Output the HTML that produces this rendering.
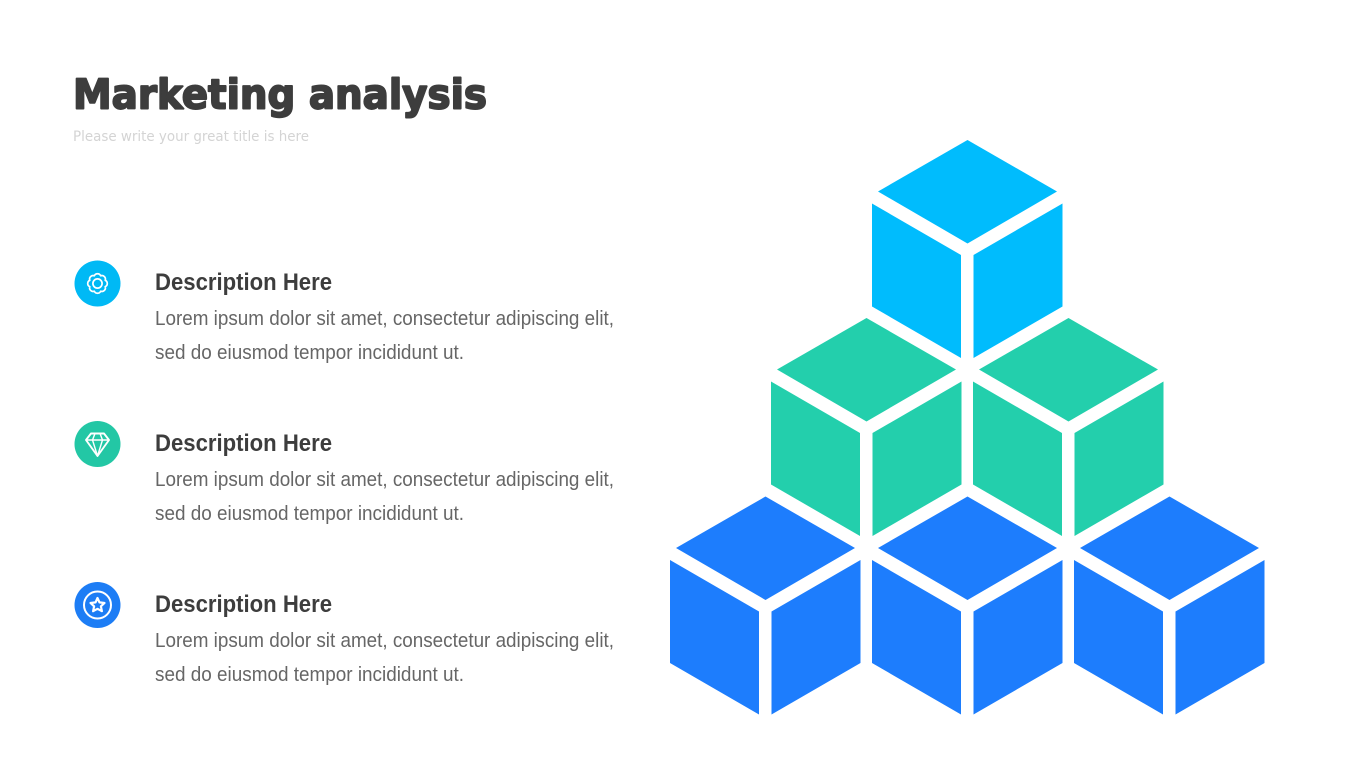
<!DOCTYPE html>
<html lang="en">
<head>
<meta charset="utf-8">
<title>Marketing analysis</title>
<style>
html,body{margin:0;padding:0;background:#fff;width:1365px;height:768px;overflow:hidden}
svg{display:block}
text{font-family:"Liberation Sans",sans-serif}
.h{font-size:24px;font-weight:700;fill:#3d3d3d}
.b{font-size:20.5px;fill:#666}
</style>
</head>
<body>
<svg width="1365" height="768" viewBox="0 0 1365 768" xmlns="http://www.w3.org/2000/svg">
<defs>
<g id="cube">
<polygon points="0,0 89.5,51.5 0,103.5 -89.5,51.5"/>
<polygon points="-95.5,63.5 -6.5,115 -6.5,218 -95.5,166.5"/>
<polygon points="6,115 95,63.5 95,166.5 6,218"/>
</g>
</defs>
<rect width="1365" height="768" fill="#fff"/>

<text x="73" y="108.500" font-size="41" font-weight="700" fill="#3d3d3d" stroke="#3d3d3d" stroke-width="1.9" stroke-linejoin="round" textLength="414" lengthAdjust="spacingAndGlyphs" style="font-family:'DejaVu Sans',sans-serif">Marketing analysis</text>
<text x="73" y="141" font-size="14" fill="#d4d4d4" textLength="236" lengthAdjust="spacingAndGlyphs" style="font-family:'DejaVu Sans',sans-serif">Please write your great title is here</text>

<use href="#cube" x="967.5" y="140" fill="#00bcfd"/>
<use href="#cube" x="866.5" y="318" fill="#23cfac"/>
<use href="#cube" x="1068.5" y="318" fill="#23cfac"/>
<use href="#cube" x="765.5" y="496.5" fill="#1d7dfd"/>
<use href="#cube" x="967.5" y="496.5" fill="#1d7dfd"/>
<use href="#cube" x="1169.5" y="496.5" fill="#1d7dfd"/>

<circle cx="97.5" cy="283.5" r="23" fill="#00b9f5"/>
<g fill="none" stroke="#fff" stroke-width="1.7" stroke-linejoin="round" transform="translate(97.5 283.5)">
<path d="M-3.2 -7.7 A3.5 3.5 0 0 1 3.2 -7.7 A3.5 3.5 0 0 1 7.7 -3.2 A3.5 3.5 0 0 1 7.7 3.2 A3.5 3.5 0 0 1 3.2 7.7 A3.5 3.5 0 0 1 -3.2 7.7 A3.5 3.5 0 0 1 -7.7 3.2 A3.5 3.5 0 0 1 -7.7 -3.2 A3.5 3.5 0 0 1 -3.2 -7.7 Z"/>
<circle r="4.6"/>
</g>

<circle cx="97.5" cy="444" r="23" fill="#23c7a5"/>
<g fill="none" stroke="#fff" stroke-linejoin="round">
<path stroke-width="1.9" d="M91 433.500 L104 433.500 L109 440 L97.500 456 L86 440 Z"/>
<path stroke-width="1.4" d="M86 440 L109 440 M92.500 440 L97.500 456 L102.500 440 M92.500 440 L95 433.500 M102.500 440 L100 433.500"/>
</g>

<circle cx="97.5" cy="605" r="23" fill="#1d7df5"/>
<g fill="none" stroke="#fff" stroke-linejoin="round">
<circle cx="97.5" cy="605" r="13.500" stroke-width="2"/>
<path stroke-width="2.2" d="M97.500 598 L99.500 602.400 L104.500 603 L100.900 606.300 L101.900 611.200 L97.500 608.800 L93.100 611.200 L94.100 606.300 L90.500 603 L95.500 602.400 Z"/>
</g>

<text class="h" x="155" y="290" textLength="177" lengthAdjust="spacingAndGlyphs">Description Here</text>
<text class="b" x="155" y="325" textLength="459" lengthAdjust="spacingAndGlyphs">Lorem ipsum dolor sit amet, consectetur adipiscing elit,</text>
<text class="b" x="155" y="359" textLength="309" lengthAdjust="spacingAndGlyphs">sed do eiusmod tempor incididunt ut.</text>

<text class="h" x="155" y="451" textLength="177" lengthAdjust="spacingAndGlyphs">Description Here</text>
<text class="b" x="155" y="486" textLength="459" lengthAdjust="spacingAndGlyphs">Lorem ipsum dolor sit amet, consectetur adipiscing elit,</text>
<text class="b" x="155" y="520" textLength="309" lengthAdjust="spacingAndGlyphs">sed do eiusmod tempor incididunt ut.</text>

<text class="h" x="155" y="612" textLength="177" lengthAdjust="spacingAndGlyphs">Description Here</text>
<text class="b" x="155" y="647" textLength="459" lengthAdjust="spacingAndGlyphs">Lorem ipsum dolor sit amet, consectetur adipiscing elit,</text>
<text class="b" x="155" y="681" textLength="309" lengthAdjust="spacingAndGlyphs">sed do eiusmod tempor incididunt ut.</text>
</svg>
</body>
</html>
